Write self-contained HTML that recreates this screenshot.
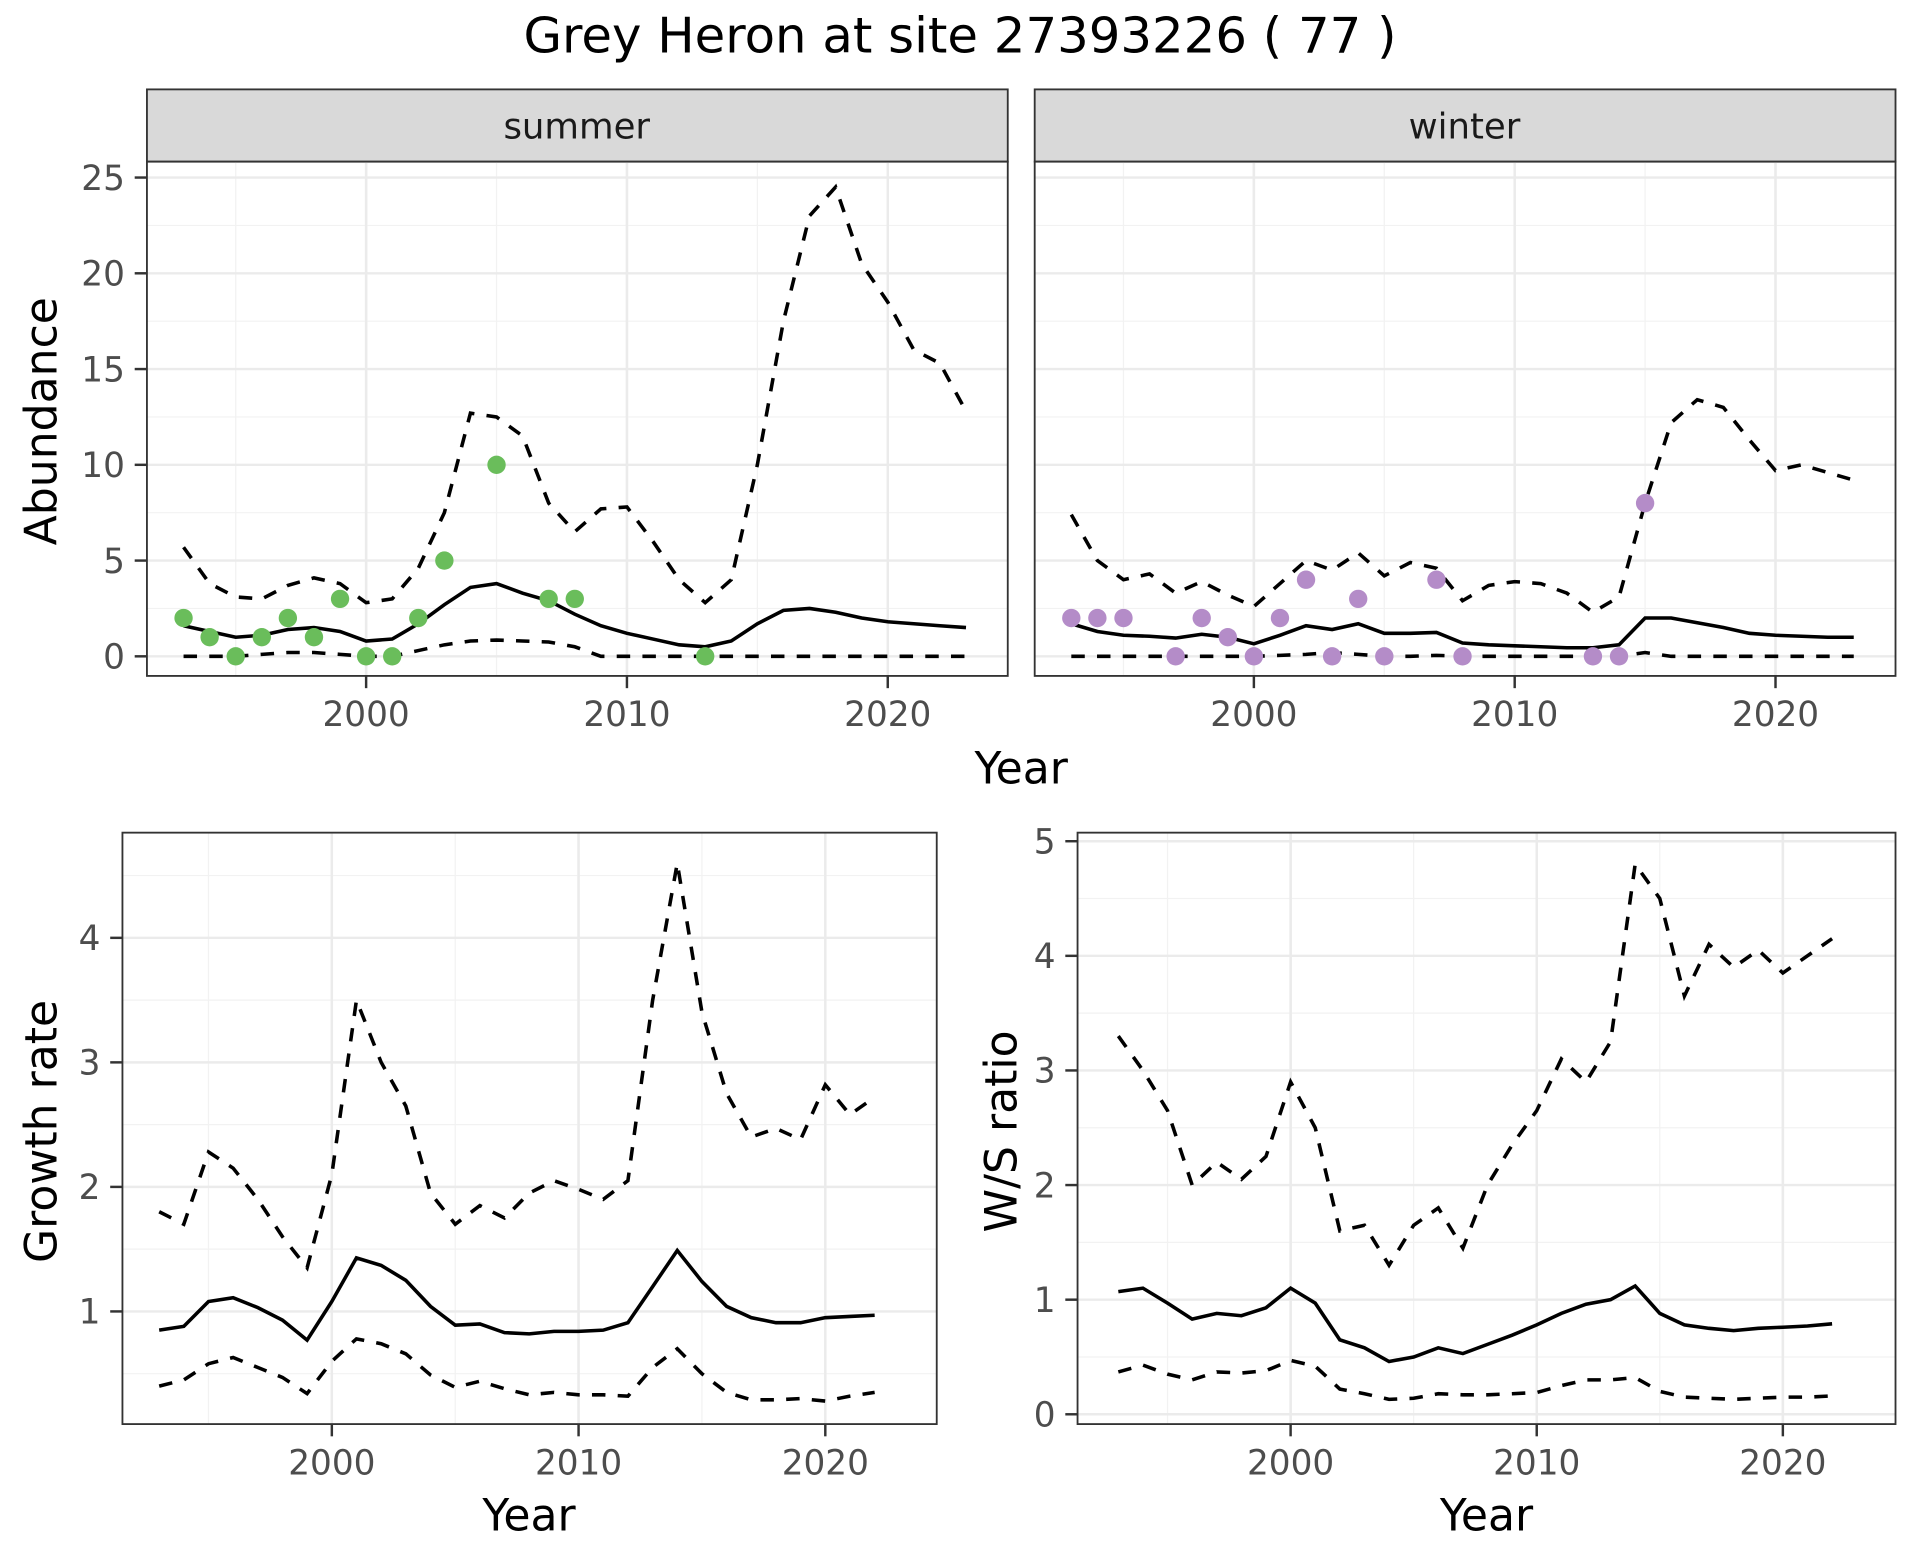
<!DOCTYPE html>
<html><head><meta charset="utf-8"><style>html,body{margin:0;padding:0;background:#fff}svg{display:block}</style></head>
<body>
<svg id="s" xmlns="http://www.w3.org/2000/svg" width="1920" height="1560" viewBox="0 0 1568 1274" font-family="'DejaVu Sans','Liberation Sans',sans-serif"></svg>
<script>
const S=document.getElementById('s');let h='';
h+='<rect width="1568" height="1274" fill="#fff"/>';
h+='<text x="784" y="43" font-size="40" text-anchor="middle" textLength="713" lengthAdjust="spacingAndGlyphs">Grey Heron at site 27393226 ( 77 )</text>';
function panel(o){
 const {x0,x1,y0,y1,xf,yf,xt,yt,ymin,ymax,ticksLeft}=o;
 const X=v=>xf[0]+(v-2000)*xf[1], Y=v=>yf[0]-v*yf[1];
 for(let v=1990;v<=2025;v+=5){const px=X(v);if(px>x0&&px<x1)h+=`<line x1="${px}" x2="${px}" y1="${y0}" y2="${y1}" stroke="#f2f2f2" stroke-width="${v%10?1:2}"/>`;}
 for(let v=ymin;v<=ymax;v+=o.ystep/2){const py=Y(v);const maj=Math.abs((v/o.ystep)-Math.round(v/o.ystep))<1e-6;if(py>y0&&py<y1)h+=`<line x1="${x0}" x2="${x1}" y1="${py}" y2="${py}" stroke="${maj?'#ebebeb':'#f2f2f2'}" stroke-width="${maj?2:1}"/>`;}
 for(const v of xt){const px=X(v);h+=`<line x1="${px}" x2="${px}" y1="${y0}" y2="${y1}" stroke="#ebebeb" stroke-width="2"/>`;
  h+=`<line x1="${px}" x2="${px}" y1="${y1}" y2="${y1+10}" stroke="#333" stroke-width="2"/>`;
  h+=`<text x="${px}" y="${y1+41}" font-size="28" fill="#4d4d4d" text-anchor="middle">${v}</text>`;}
 for(const v of yt){const py=Y(v);
  if(ticksLeft){h+=`<line x1="${x0-10}" x2="${x0}" y1="${py}" y2="${py}" stroke="#333" stroke-width="2"/>`;
  h+=`<text x="${x0-18}" y="${py+10}" font-size="28" fill="#4d4d4d" text-anchor="end">${v}</text>`;}}
 const line=(ys,yr,dash)=>{let p=ys.map((v,i)=>`${X(yr+i).toFixed(1)},${Y(v).toFixed(1)}`).join(' ');
  h+=`<polyline points="${p}" fill="none" stroke="#000" stroke-width="2.9" ${dash?'stroke-dasharray="11,10"':''}/>`;};
 line(o.up,o.yr,1);line(o.lo,o.yr,1);line(o.mean,o.yr,0);
 if(o.pts)for(const [yy,v] of o.pts)h+=`<circle cx="${X(yy)}" cy="${Y(v)}" r="7.5" fill="${o.col}"/>`;
 h+=`<rect x="${x0}" y="${y0}" width="${x1-x0}" height="${y1-y0}" fill="none" stroke="#333" stroke-width="1.5"/>`;
}
const sm=[1.6,1.3,1.0,1.1,1.4,1.5,1.3,0.8,0.9,1.7,2.7,3.6,3.8,3.3,2.9,2.2,1.6,1.2,0.9,0.6,0.5,0.8,1.7,2.4,2.5,2.3,2.0,1.8,1.7,1.6,1.5];
const su=[5.7,3.8,3.1,3.0,3.7,4.1,3.8,2.8,3.0,4.6,7.5,12.7,12.5,11.5,8.0,6.5,7.7,7.8,6.0,4.0,2.8,4.0,10,17.5,23,24.5,20.5,18.5,16,15.3,12.8];
const sl=[0,0,0,0.1,0.2,0.2,0.1,0,0,0.3,0.6,0.8,0.85,0.8,0.75,0.5,0,0,0,0,0,0,0,0,0,0,0,0,0,0,0];
const wm=[1.7,1.3,1.1,1.05,0.95,1.15,1.0,0.65,1.1,1.6,1.4,1.7,1.2,1.2,1.25,0.7,0.6,0.55,0.5,0.45,0.45,0.6,2.0,2.0,1.75,1.5,1.2,1.1,1.05,1.0,1.0];
const wu=[7.4,5.0,4.0,4.3,3.3,3.9,3.2,2.6,3.8,5.0,4.5,5.4,4.2,4.9,4.6,2.9,3.7,3.9,3.8,3.3,2.3,3.1,8.0,12.2,13.4,13.0,11.3,9.7,10.0,9.6,9.2];
const wl=[0,0,0,0,0,0,0,0,0.05,0.1,0.2,0.1,0,0,0.05,0,0,0,0,0,0,0,0.2,0,0,0,0,0,0,0,0];
h+=`<rect x="120" y="73" width="703" height="59" fill="#d9d9d9" stroke="#333" stroke-width="1.5"/><text x="471" y="113" font-size="29" fill="#1a1a1a" text-anchor="middle">summer</text>`;
h+=`<rect x="845" y="73" width="703" height="59" fill="#d9d9d9" stroke="#333" stroke-width="1.5"/><text x="1196" y="113" font-size="29" fill="#1a1a1a" text-anchor="middle">winter</text>`;
panel({x0:120,x1:823,y0:132,y1:552,xf:[299,21.3],yf:[536,15.64],xt:[2000,2010,2020],yt:[0,5,10,15,20,25],ymin:0,ymax:27.5,ystep:5,ticksLeft:1,yr:1993,mean:sm,up:su,lo:sl,col:'#6abd5b',
 pts:[[1993,2],[1994,1],[1995,0],[1996,1],[1997,2],[1998,1],[1999,3],[2000,0],[2001,0],[2002,2],[2003,5],[2005,10],[2007,3],[2008,3],[2013,0]]});
panel({x0:845,x1:1548,y0:132,y1:552,xf:[1024,21.3],yf:[536,15.64],xt:[2000,2010,2020],yt:[],ymin:0,ymax:27.5,ystep:5,ticksLeft:0,yr:1993,mean:wm,up:wu,lo:wl,col:'#b48cc8',
 pts:[[1993,2],[1994,2],[1995,2],[1997,0],[1998,2],[1999,1],[2000,0],[2001,2],[2002,4],[2003,0],[2004,3],[2005,0],[2007,4],[2008,0],[2013,0],[2014,0],[2015,8]]});
h+=`<text x="834" y="640" font-size="36" text-anchor="middle">Year</text>`;
h+=`<text transform="translate(46,344) rotate(-90)" font-size="36" text-anchor="middle">Abundance</text>`;
panel({x0:100,x1:765,y0:680,y1:1163,xf:[271,20.15],yf:[1172.7,101.7],xt:[2000,2010,2020],yt:[1,2,3,4],ymin:0,ymax:5,ystep:1,ticksLeft:1,yr:1993,
 mean:[0.85,0.88,1.08,1.11,1.03,0.93,0.77,1.08,1.43,1.37,1.25,1.04,0.89,0.9,0.83,0.82,0.84,0.84,0.85,0.91,1.2,1.49,1.24,1.04,0.95,0.91,0.91,0.95,0.96,0.97],
 up:[1.8,1.7,2.28,2.15,1.9,1.6,1.35,2.1,3.5,3.0,2.65,1.95,1.7,1.85,1.75,1.95,2.05,1.98,1.9,2.05,3.5,4.6,3.4,2.75,2.4,2.47,2.38,2.82,2.58,2.72],
 lo:[0.4,0.45,0.58,0.63,0.55,0.47,0.34,0.6,0.78,0.74,0.66,0.49,0.39,0.44,0.38,0.33,0.35,0.33,0.33,0.32,0.55,0.7,0.5,0.35,0.29,0.29,0.3,0.28,0.32,0.35]});
h+=`<text x="432" y="1250" font-size="36" text-anchor="middle">Year</text>`;
h+=`<text transform="translate(46,924) rotate(-90)" font-size="36" text-anchor="middle">Growth rate</text>`;
panel({x0:880,x1:1548,y0:680,y1:1163,xf:[1054,20.1],yf:[1155,93.6],xt:[2000,2010,2020],yt:[0,1,2,3,4,5],ymin:0,ymax:5,ystep:1,ticksLeft:1,yr:1993,
 mean:[1.07,1.1,0.97,0.83,0.88,0.86,0.93,1.1,0.97,0.65,0.58,0.46,0.5,0.58,0.53,0.61,0.69,0.78,0.88,0.96,1.0,1.12,0.88,0.78,0.75,0.73,0.75,0.76,0.77,0.79],
 up:[3.3,3.0,2.65,2.0,2.2,2.05,2.25,2.9,2.5,1.6,1.65,1.3,1.65,1.8,1.45,2.0,2.35,2.65,3.1,2.9,3.25,4.8,4.5,3.65,4.1,3.9,4.05,3.85,4.0,4.15],
 lo:[0.37,0.43,0.35,0.3,0.37,0.36,0.38,0.47,0.42,0.22,0.18,0.13,0.14,0.18,0.17,0.17,0.18,0.19,0.25,0.3,0.3,0.32,0.2,0.15,0.14,0.13,0.14,0.15,0.15,0.16]});
h+=`<text x="1214" y="1250" font-size="36" text-anchor="middle">Year</text>`;
h+=`<text transform="translate(830,924) rotate(-90)" font-size="36" text-anchor="middle">W/S ratio</text>`;
S.innerHTML=h;
</script>
</body></html>
